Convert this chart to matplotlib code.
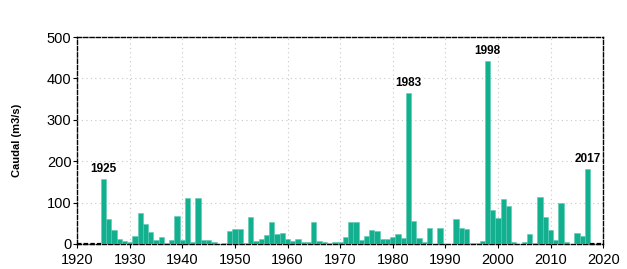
import numpy as np
import matplotlib.pyplot as plt

# annual peak flow, 1925-2017
years = np.arange(1925, 2018)
caudal = [156, 60, 34, 12, 8, 5, 19, 76, 48, 30,
          10, 16, 2, 10, 68, 10, 110, 5, 110, 10,
          10, 6, 1, 3, 32, 36, 36, 3, 66, 8,
          13, 22, 52, 24, 27, 13, 8, 12, 5, 5,
          52, 8, 5, 2, 5, 5, 16, 53, 52, 10,
          19, 34, 32, 12, 13, 16, 24, 15, 364, 56,
          14, 6, 39, 0, 39, 1, 1, 61, 39, 36,
          2, 2, 8, 442, 83, 64, 108, 93, 5, 0,
          5, 24, 2, 114, 66, 34, 10, 98, 6, 1,
          27, 19, 181]
missing_left = [1920, 1924.5]
missing_right = [2017.5, 2020]
highlight = [1925, 1983, 1998, 2017]

plt.rcParams['font.family'] = ['Liberation Sans', 'DejaVu Sans']

fig = plt.figure(figsize=(6.27, 2.69), dpi=100)
ax = fig.add_axes([0.123, 0.093, 0.839, 0.769])

ax.bar(years, caudal, width=1.0, color='#12b08f', edgecolor='#5cc9b4',
       linewidth=0.4, zorder=3)

# no-data stretches drawn as dashed baseline
for seg in (missing_left, missing_right):
    ax.plot(seg, [0, 0], color='k', linestyle=(0, (2, 1)), linewidth=1.6,
            zorder=4, clip_on=False)

for yr in highlight:
    v = caudal[yr - 1925]
    ax.annotate(str(yr), (yr, v), xytext=(0, 3), textcoords='offset points',
                ha='center', va='bottom', fontsize=8.5, fontweight='bold')

ax.set_xlim(1920, 2020)
ax.set_ylim(0, 500)
ax.set_xticks(np.arange(1920, 2021, 10))
ax.set_yticks(np.arange(0, 501, 100))
ax.tick_params(labelsize=10.5, length=3, width=0.8)
ax.tick_params(axis='x', pad=3.5)
ax.tick_params(axis='y', pad=1)
ax.grid(which='major', color='#c8c8c8', linestyle=(0, (1, 3)), linewidth=0.8,
        zorder=0)

for s in ax.spines.values():
    s.set_linestyle((0, (3, 1.5)))
    s.set_linewidth(1.0)

ax.set_ylabel('Caudal (m3/s)', fontsize=8, fontweight='bold')
ax.yaxis.set_label_coords(-0.105, 0.5)

fig.savefig('out.png', dpi=100)
